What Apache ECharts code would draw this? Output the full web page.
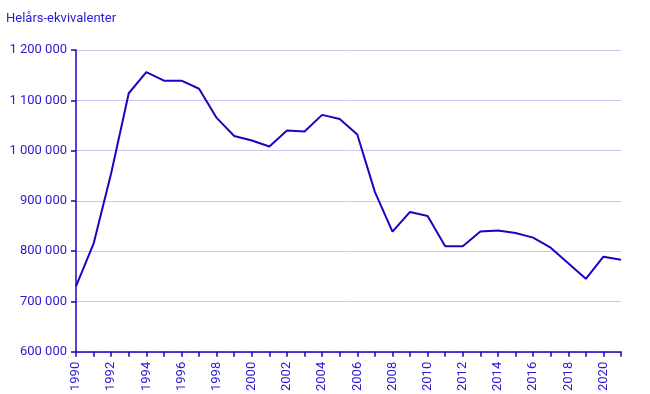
<!DOCTYPE html>
<html>
<head>
<meta charset="utf-8">
<script src="https://cdn.jsdelivr.net/npm/echarts@6/dist/echarts.min.js"></script>
<style>
html,body{margin:0;padding:0;background:#fff;}
#c{width:650px;height:394px;}
</style>
</head>
<body>
<div id="c"></div>
<script>
const years = ['1990','1991','1992','1993','1994','1995','1996','1997','1998','1999','2000','2001','2002','2003','2004','2005','2006','2007','2008','2009','2010','2011','2012','2013','2014','2015','2016','2017','2018','2019','2020','2021'];
const values = [730000,815000,955000,1114000,1156000,1139000,1139000,1123000,1065000,1029000,1020000,1008000,1040000,1038000,1071000,1063000,1032000,918000,839000,878000,870000,810000,810000,839000,841000,836000,827000,807000,776000,745000,789000,783000];
const yTicks = [600000,700000,800000,900000,1000000,1100000,1200000];
const yTitle = 'Helårs-ekvivalenter';

const mainColor = '#2200c0';
const textColor = '#2a1ad0';
const fmt = v => String(v).replace(/\B(?=(\d{3})+(?!\d))/g, ' ');

const chart = echarts.init(document.getElementById('c'), null, {renderer:'canvas'});
chart.setOption({
  animation:false,
  graphic:[{type:'text', left:6, top:12, style:{text:yTitle, fill:textColor, font:'13px Roboto, Arial, sans-serif'}}],
  grid:{left:76, right:29, top:50, bottom:42, containLabel:false},
  xAxis:{
    type:'category', data:years, boundaryGap:false,
    axisLine:{lineStyle:{color:mainColor, width:1.5}},
    axisTick:{show:true, interval:0, length:5, lineStyle:{color:mainColor, width:1.5}},
    axisLabel:{rotate:90, interval:1, color:textColor, fontSize:13, fontFamily:'Roboto, Arial, sans-serif', margin:10},
    splitLine:{show:false}
  },
  yAxis:{
    type:'value', min:yTicks[0], max:yTicks[yTicks.length-1], interval:100000,
    axisLine:{show:true, lineStyle:{color:mainColor, width:1.5}},
    axisTick:{show:true, length:5, lineStyle:{color:mainColor, width:1.5}},
    axisLabel:{color:textColor, fontSize:13, fontFamily:'Roboto, Arial, sans-serif', margin:9, formatter:fmt},
    splitLine:{lineStyle:{color:'#cbc6f2', width:1}}
  },
  series:[{
    type:'line', data:values, showSymbol:false, symbol:'none',
    lineStyle:{color:mainColor, width:2}
  }]
});
</script>
</body>
</html>
